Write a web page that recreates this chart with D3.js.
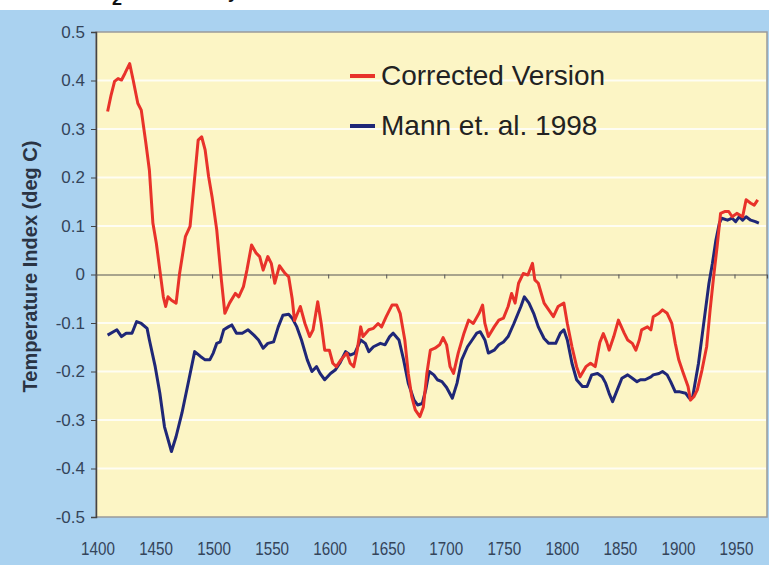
<!DOCTYPE html>
<html>
<head>
<meta charset="utf-8">
<script src="https://cdn.jsdelivr.net/npm/d3@7"></script>
<style>
  html, body { margin: 0; padding: 0; background: #fff; }
  svg { display: block; font-family: Arial, "Liberation Sans", sans-serif; }
</style>
</head>
<body>
<svg id="chart" width="769" height="565"></svg>
<script>
// ---- data ----
const correctedYears = [1410,1413,1416,1419,1422,1425,1429,1432,1436,1439,1443,1446,1449,1452,1455,1458,1460,1462,1465,1469,1472,1477,1481,1484,1488,1491,1494,1497,1500,1504,1508,1511,1515,1520,1523,1527,1530,1534,1538,1541,1544,1548,1551,1554,1558,1563,1566,1569,1571,1576,1580,1584,1587,1591,1594,1597,1601,1604,1607,1611,1616,1619,1622,1625,1628,1630,1635,1639,1643,1646,1650,1655,1659,1662,1666,1669,1672,1675,1679,1682,1685,1688,1692,1696,1699,1702,1705,1708,1712,1717,1721,1725,1730,1733,1735,1738,1743,1747,1751,1755,1758,1761,1764,1768,1772,1776,1778,1781,1786,1790,1794,1798,1803,1806,1810,1814,1817,1822,1826,1830,1834,1837,1840,1842,1846,1850,1855,1858,1862,1865,1868,1870,1875,1878,1880,1885,1888,1892,1896,1899,1902,1906,1910,1912,1915,1918,1922,1926,1929,1932,1935,1938,1942,1945,1948,1952,1957,1960,1964,1967,1970];
const correctedValues = [0.336,0.370,0.398,0.404,0.401,0.415,0.435,0.401,0.353,0.339,0.270,0.215,0.106,0.064,0.009,-0.046,-0.066,-0.046,-0.053,-0.059,0.002,0.078,0.099,0.174,0.277,0.284,0.257,0.202,0.160,0.092,-0.011,-0.080,-0.059,-0.039,-0.046,-0.025,0.009,0.061,0.044,0.037,0.009,0.037,0.023,-0.018,0.018,0.002,-0.005,-0.050,-0.095,-0.066,-0.101,-0.128,-0.114,-0.056,-0.101,-0.156,-0.156,-0.183,-0.190,-0.176,-0.162,-0.183,-0.190,-0.156,-0.108,-0.128,-0.114,-0.111,-0.101,-0.108,-0.087,-0.063,-0.063,-0.080,-0.135,-0.204,-0.252,-0.279,-0.293,-0.273,-0.204,-0.156,-0.152,-0.145,-0.130,-0.145,-0.190,-0.204,-0.162,-0.121,-0.094,-0.101,-0.080,-0.063,-0.101,-0.128,-0.108,-0.094,-0.090,-0.066,-0.039,-0.059,-0.018,0.002,-0.001,0.023,-0.011,-0.018,-0.059,-0.073,-0.087,-0.066,-0.059,-0.101,-0.149,-0.190,-0.211,-0.190,-0.183,-0.190,-0.140,-0.122,-0.140,-0.156,-0.128,-0.094,-0.121,-0.135,-0.142,-0.156,-0.135,-0.114,-0.108,-0.114,-0.087,-0.080,-0.073,-0.080,-0.101,-0.142,-0.176,-0.204,-0.231,-0.259,-0.252,-0.238,-0.197,-0.149,-0.073,-0.005,0.057,0.126,0.130,0.130,0.119,0.126,0.119,0.154,0.147,0.143,0.154];

const mannYears = [1410,1415,1418,1422,1426,1431,1435,1439,1444,1446,1451,1455,1459,1465,1469,1474,1480,1485,1490,1494,1498,1501,1504,1507,1510,1514,1517,1521,1526,1531,1536,1540,1544,1548,1553,1557,1561,1566,1569,1573,1577,1582,1586,1590,1593,1597,1602,1606,1610,1615,1619,1623,1628,1632,1635,1639,1645,1649,1653,1656,1661,1665,1669,1674,1677,1681,1684,1687,1691,1694,1698,1702,1707,1711,1715,1720,1724,1728,1731,1735,1738,1743,1747,1751,1755,1760,1766,1769,1773,1777,1781,1786,1790,1796,1800,1803,1806,1810,1814,1819,1823,1827,1832,1836,1839,1842,1845,1849,1853,1858,1862,1866,1869,1873,1878,1880,1885,1888,1892,1895,1899,1903,1908,1911,1914,1916,1919,1922,1925,1928,1931,1934,1937,1939,1944,1948,1951,1954,1957,1960,1964,1968,1971];
const mannValues = [-0.125,-0.118,-0.114,-0.128,-0.121,-0.121,-0.097,-0.101,-0.111,-0.135,-0.190,-0.245,-0.314,-0.365,-0.334,-0.286,-0.217,-0.159,-0.169,-0.176,-0.176,-0.162,-0.142,-0.139,-0.114,-0.108,-0.104,-0.121,-0.121,-0.114,-0.125,-0.135,-0.152,-0.142,-0.139,-0.108,-0.084,-0.082,-0.090,-0.108,-0.135,-0.176,-0.200,-0.190,-0.204,-0.217,-0.204,-0.197,-0.183,-0.159,-0.166,-0.162,-0.135,-0.142,-0.159,-0.149,-0.142,-0.145,-0.128,-0.121,-0.135,-0.176,-0.224,-0.259,-0.269,-0.266,-0.238,-0.200,-0.207,-0.217,-0.221,-0.233,-0.255,-0.224,-0.176,-0.149,-0.135,-0.121,-0.118,-0.135,-0.162,-0.156,-0.145,-0.139,-0.128,-0.101,-0.066,-0.046,-0.059,-0.080,-0.108,-0.132,-0.142,-0.142,-0.121,-0.114,-0.135,-0.183,-0.217,-0.231,-0.231,-0.207,-0.204,-0.211,-0.224,-0.245,-0.262,-0.238,-0.214,-0.207,-0.214,-0.221,-0.217,-0.217,-0.211,-0.207,-0.204,-0.200,-0.207,-0.221,-0.242,-0.242,-0.245,-0.255,-0.252,-0.224,-0.183,-0.128,-0.073,-0.018,0.023,0.071,0.106,0.116,0.112,0.116,0.109,0.119,0.112,0.119,0.112,0.109,0.106];

const xTicks = [1400,1450,1500,1550,1600,1650,1700,1750,1800,1850,1900,1950];
const yTicks = [-0.5,-0.4,-0.3,-0.2,-0.1,0,0.1,0.2,0.3,0.4,0.5];
const seriesNames = ["Corrected Version", "Mann et. al. 1998"];
const seriesColors = ["#e8322a", "#1f2777"];

// ---- layout ----
const svg = d3.select("#chart");
const plot = { left: 96, right: 767, top: 32, bottom: 517 };

const x = d3.scaleLinear().domain([1400, 1978]).range([plot.left, plot.right]);
const y = d3.scaleLinear().domain([-0.5, 0.5]).range([plot.bottom, plot.top]);

// cropped title remnants above the figure (cut off in the original too)
svg.append("text").attr("x", 112).attr("y", 5)
  .attr("font-size", 18).attr("font-weight", "bold").attr("fill", "#111").text("2");
svg.append("text").attr("x", 228).attr("y", -2)
  .attr("font-size", 18).attr("font-weight", "bold").attr("fill", "#111").text("y");

// blue backdrop
svg.append("rect")
  .attr("x", 0).attr("y", 10).attr("width", 769).attr("height", 555)
  .attr("fill", "#aad2f0");

// plot area
svg.append("rect")
  .attr("x", plot.left).attr("y", plot.top)
  .attr("width", plot.right - plot.left).attr("height", plot.bottom - plot.top)
  .attr("fill", "#fcf5c5")
  .attr("stroke", "#9a9a9a").attr("stroke-width", 1.5);

// white gridlines
svg.append("g")
  .selectAll("line")
  .data(yTicks.filter(d => d !== 0 && d > -0.5 && d < 0.5))
  .join("line")
  .attr("x1", plot.left).attr("x2", plot.right - 1)
  .attr("y1", d => y(d)).attr("y2", d => y(d))
  .attr("stroke", "#ffffff").attr("stroke-width", 2).attr("opacity", 0.8);

// y axis (hyphen minus like the original)
const yAxis = svg.append("g")
  .attr("transform", `translate(${plot.left},0)`)
  .call(d3.axisLeft(y).tickValues(yTicks).tickSize(5).tickPadding(6)
    .tickFormat(d => Math.abs(d) < 1e-9 ? "0" : d.toFixed(1)));
yAxis.select(".domain").attr("stroke", "#444").attr("stroke-width", 1.5);
yAxis.selectAll(".tick line").attr("stroke", "#444");
yAxis.selectAll(".tick text")
  .attr("font-size", 17).attr("fill", "#34445a")
  .attr("font-family", "Arial, 'Liberation Sans', sans-serif");

// zero line with category ticks
const xAxis = svg.append("g")
  .attr("transform", `translate(0,${y(0)})`)
  .call(d3.axisBottom(x).tickValues(xTicks).tickSize(4).tickFormat(""));
xAxis.select(".domain").attr("stroke", "#555").attr("stroke-width", 1.2);
xAxis.selectAll(".tick line").attr("stroke", "#555");

// x tick labels along the bottom
svg.append("g")
  .selectAll("text")
  .data(xTicks)
  .join("text")
  .attr("transform", d => `translate(${x(d) + 2},${plot.bottom + 38}) scale(0.8,1)`)
  .attr("text-anchor", "middle")
  .attr("font-size", 19).attr("fill", "#34445a")
  .text(d => d);

// y axis title
svg.append("text")
  .attr("transform", `translate(37,${(plot.top + plot.bottom) / 2 - 8}) rotate(-90)`)
  .attr("text-anchor", "middle")
  .attr("font-size", 20).attr("font-weight", "bold").attr("fill", "#2a3444")
  .text("Temperature Index (deg C)");

// series
const line = d3.line().x(d => x(d[0])).y(d => y(d[1]));
const series = [
  d3.zip(mannYears, mannValues),
  d3.zip(correctedYears, correctedValues)
];
svg.append("g")
  .selectAll("path")
  .data(series)
  .join("path")
  .attr("d", line)
  .attr("fill", "none")
  .attr("stroke", (d, i) => i === 0 ? seriesColors[1] : seriesColors[0])
  .attr("stroke-width", 3)
  .attr("stroke-linejoin", "round");

// legend
const legend = svg.append("g");
seriesNames.forEach((name, i) => {
  const ly = 76 + i * 50;
  legend.append("line")
    .attr("x1", 350).attr("x2", 375).attr("y1", ly).attr("y2", ly)
    .attr("stroke", seriesColors[i]).attr("stroke-width", 4);
  legend.append("text")
    .attr("x", 381).attr("y", ly + 9)
    .attr("font-size", 28).attr("fill", "#222")
    .text(name);
});
</script>
</body>
</html>
